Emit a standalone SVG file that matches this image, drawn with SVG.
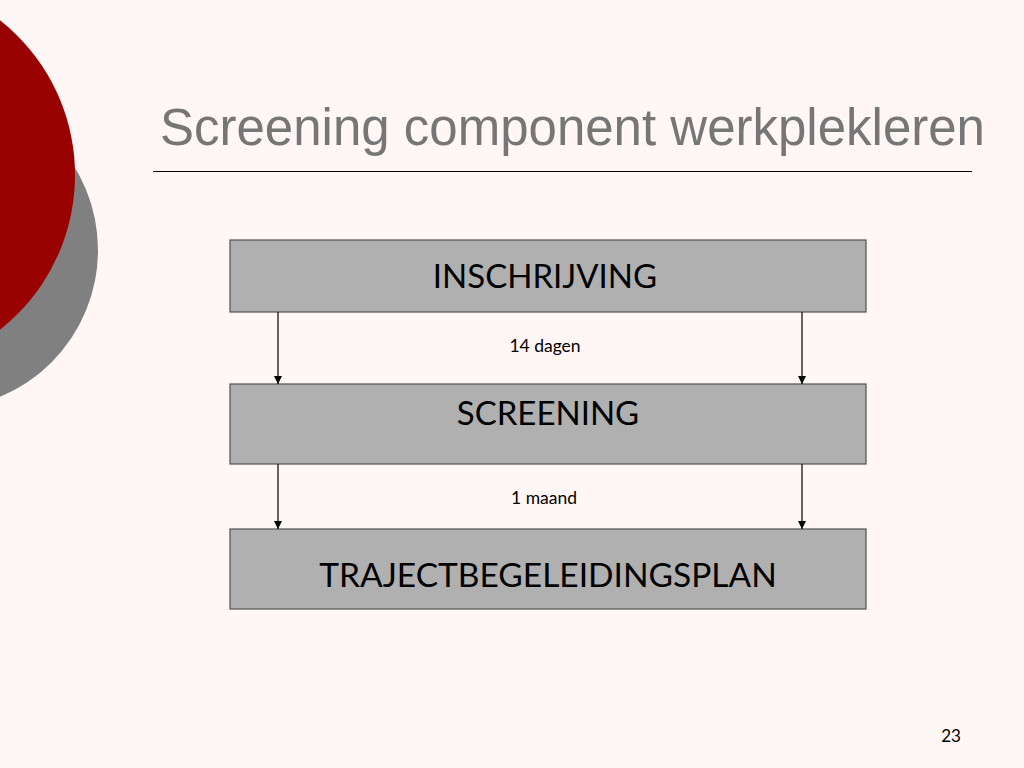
<svg xmlns="http://www.w3.org/2000/svg" width="1024" height="768" viewBox="0 0 1024 768">
<defs>
<style>
.box{fill:#b0b0b0;stroke:#505050;stroke-width:1.2}
.lbl{font-family:Lato,"Open Sans","Liberation Sans",sans-serif;fill:#000;text-anchor:middle}
.conn{stroke:#000;stroke-width:1.2;fill:none}
</style>
<marker id="ah" viewBox="0 0 10 10" refX="10" refY="5" markerWidth="8" markerHeight="8" markerUnits="userSpaceOnUse" orient="auto">
<path d="M0,0 L10,5 L0,10 z" fill="#000"/>
</marker>
</defs>
<rect width="1024" height="768" fill="#fff6f6"/>
<circle cx="-61" cy="250" r="159" fill="#808080"/>
<circle cx="-122" cy="175" r="197" fill="#990000"/>
<text x="160" y="145" font-family="Liberation Sans, Arial, sans-serif" font-size="51" fill="#767676">Screening component werkplekleren</text>
<line x1="153" y1="171.5" x2="972" y2="171.5" stroke="#000" stroke-width="1"/>
<g id="inschrijving">
<rect class="box" x="230" y="240" width="636" height="72"/>
<text class="lbl" x="545" y="288" font-size="33">INSCHRIJVING</text>
</g>
<g id="screening">
<rect class="box" x="230" y="384" width="636" height="80"/>
<text class="lbl" x="548" y="425" font-size="33">SCREENING</text>
</g>
<g id="trajectbegeleidingsplan">
<rect class="box" x="230" y="529" width="636" height="80"/>
<text class="lbl" x="548" y="587" font-size="33.5">TRAJECTBEGELEIDINGSPLAN</text>
</g>
<g id="connectors">
<line class="conn" x1="278" y1="312" x2="278" y2="384" marker-end="url(#ah)"/>
<line class="conn" x1="802" y1="312" x2="802" y2="384" marker-end="url(#ah)"/>
<line class="conn" x1="278" y1="464" x2="278" y2="529" marker-end="url(#ah)"/>
<line class="conn" x1="802" y1="464" x2="802" y2="529" marker-end="url(#ah)"/>
<text class="lbl" x="545" y="352" font-size="17.5">14 dagen</text>
<text class="lbl" x="544" y="504" font-size="17.5">1 maand</text>
</g>
<text x="951" y="742" font-family="Lato,'Open Sans',sans-serif" font-size="17" text-anchor="middle" fill="#000">23</text>
</svg>
